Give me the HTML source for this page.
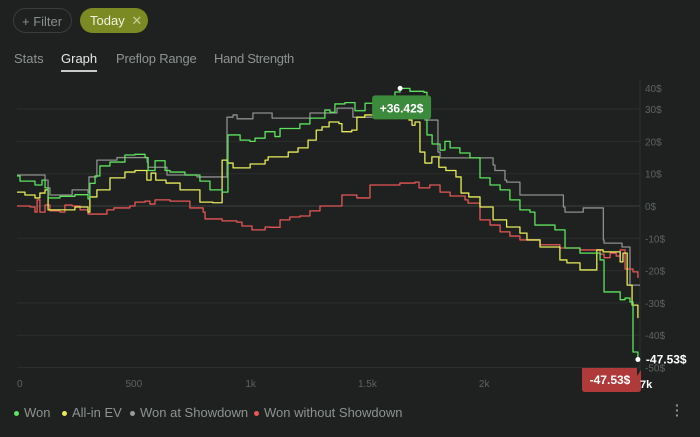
<!DOCTYPE html>
<html><head><meta charset="utf-8">
<style>
html,body{margin:0;padding:0;background:#1e211f;width:700px;height:437px;overflow:hidden;font-family:"Liberation Sans",sans-serif;}
.pill{position:absolute;top:8px;height:25px;border-radius:13px;font-size:13px;line-height:25px;box-sizing:border-box;}
#filter{left:13px;width:59px;border:1px solid #3a3e3b;color:#8a8e8b;padding-left:8px;}
#today{left:80px;width:68px;background:#7b8a22;color:#f0f3df;padding-left:10px;}
.tab{position:absolute;top:51px;font-size:13px;color:#8f9390;}
#tab-graph{color:#e6e8e6;}
#tab-graph:after{content:"";position:absolute;left:0;right:0;top:19px;height:2px;background:#c9cbc9;}
.leg{position:absolute;top:405px;font-size:13px;color:#8f9390;}
.leg i{display:inline-block;width:5px;height:5px;border-radius:50%;margin-right:5px;vertical-align:middle;}
</style></head><body>
<div id="filter" class="pill">+ Filter</div>
<div id="today" class="pill">Today <span style="color:#c8cf9b;margin-left:3px">✕</span></div>
<div class="tab" style="left:14px">Stats</div>
<div class="tab" id="tab-graph" style="left:61px">Graph</div>
<div class="tab" style="left:116px;letter-spacing:-0.2px">Preflop Range</div>
<div class="tab" style="left:214px;letter-spacing:-0.3px">Hand Strength</div>
<svg id="chart" width="700" height="437" style="position:absolute;left:0;top:0"></svg>
<div class="leg" style="left:14px"><i style="background:#5fe35f"></i>Won</div>
<div class="leg" style="left:62px"><i style="background:#e6ea5a"></i>All-in EV</div>
<div class="leg" style="left:130px"><i style="background:#999"></i>Won at Showdown</div>
<div class="leg" style="left:254px"><i style="background:#e85a5a"></i>Won without Showdown</div>
<div style="position:absolute;left:675px;top:403px;color:#8f9390;font-size:14px;line-height:5px;font-weight:bold">·<br>·<br>·</div>
<script>
const xTicks=[0,500,1000,1500,2000];
const xTickLabels=["0","500","1k","1.5k","2k"];
const yTicks=[40,30,20,10,0,-10,-20,-30,-40,-50];
const yTickLabels=["40$","30$","20$","10$","0$","-10$","-20$","-30$","-40$","-50$"];
const wonHands=[0,13,77,107,120,133,184,248,304,312,334,355,398,462,505,548,561,591,634,655,719,783,826,878,903,955,997,1019,1062,1104,1126,1211,1254,1318,1340,1361,1404,1447,1490,1533,1618,1640,1682,1742,1755,1777,1811,1832,1854,1896,1939,1982,2025,2068,2110,2153,2196,2217,2303,2346,2410,2496,2513,2582,2603,2624,2637,2658];
const wonValues=[9.3,7.7,6.5,8,5.6,2.5,3,3.5,2.2,7,9.3,12.4,13.6,15.8,16,15,11,14,11,10.5,9.6,7.7,5,4.3,22,20.4,20,21,23,21.5,24,25.4,27.2,29.7,29,31.6,32,29.5,31.8,34,35.3,36.42,35.5,35.2,22,19.2,17.3,20,18,16.4,14.9,8.7,6.5,5,1.9,-1.2,-1.9,-5.9,-7.4,-13,-14.6,-16.7,-26.6,-29,-28.5,-29.7,-45.2,-47.53];
const evHands=[0,34,77,98,120,133,184,248,304,312,342,398,462,505,556,574,594,638,698,783,838,878,901,925,998,1062,1075,1161,1203,1246,1281,1306,1336,1378,1391,1433,1455,1489,1678,1691,1704,1725,1746,1776,1806,1836,1879,1901,1934,1982,2038,2096,2153,2183,2239,2324,2354,2410,2482,2509,2582,2594,2612,2633,2658];
const evValues=[4.3,3.4,2.5,4,5,-1.2,-1.2,-0.3,-1.9,2.8,5,8.7,10.5,11,8,10.2,8,7.1,5,1.2,1,14.2,13.3,11.8,13,14.2,15.2,16.7,18,20.4,23.5,24.5,26,25.5,23,23.5,27.5,28.2,26.6,25,26,16.7,13.3,15.2,12,11,9,4,2.8,-0.3,-4.3,-6.5,-8.4,-10.5,-12.7,-16.7,-17.6,-19.8,-13.6,-14.2,-17.3,-14.6,-24.5,-30.7,-34.7];
const sdHands=[0,120,133,141,236,304,308,342,428,557,561,642,770,899,925,942,1010,1092,1254,1297,1370,1438,1738,1746,1802,1811,1838,2038,2046,2089,2096,2153,2339,2346,2424,2510,2513,2590,2624,2632,2667];
const sdValues=[9.6,8,5.6,3.4,5,4,9,14.2,15,13.6,12,9.6,9,27.5,28.2,27,28.8,27.2,28.8,28.8,30.3,27.5,28.2,26.6,16.7,14.9,14.9,12.7,11,8,7.4,3.4,-0.3,-1.9,-0.6,-10.5,-11.5,-12.7,-24.5,-24.5,-24.5];
const nsHands=[0,56,77,86,98,120,141,184,205,236,270,304,334,385,415,483,505,548,569,591,655,740,797,805,878,941,963,1006,1062,1083,1126,1168,1211,1254,1297,1391,1455,1511,1639,1704,1721,1767,1811,1854,1918,1931,1982,2025,2068,2110,2153,2239,2324,2410,2496,2513,2539,2565,2582,2603,2637,2658];
const nsValues=[0,-0.3,-1.9,1.9,-1.9,0.3,-1.5,-1.9,0.3,0,-1.2,-2.5,-2.5,-1.2,-0.6,0,1.2,1.5,0.6,1.9,1.5,-0.6,-1.9,-4,-4.6,-5,-6.2,-7.4,-6.5,-6.6,-4.3,-3.4,-3.1,-1.5,0,3.4,2.5,6.5,7.1,7.4,5.6,6.5,4.3,3.1,1.9,0.9,-4.3,-5.9,-8,-9.3,-10.5,-12,-13,-13.6,-14.9,-16,-14.6,-15.5,-13.6,-19.5,-20.4,-22.3];

const svg=document.getElementById('chart');
const NS='http://www.w3.org/2000/svg';
const X0=17,XK=0.2336,Y0=206,YK=3.23;
function xs(h){return X0+h*XK;}
function ys(v){return Y0-v*YK;}
function mk(tag,attrs){const e=document.createElementNS(NS,tag);for(const k in attrs)e.setAttribute(k,attrs[k]);svg.appendChild(e);return e;}
yTicks.forEach((t,i)=>{
  const y=ys(t);
  if(y>85&&y<370){const g=mk('line',{x1:17,x2:640,y1:y,y2:y,stroke:t===0?'#3b3f3c':'#2b2f2c','stroke-width':1});
  
  }
  const ty=Math.max(y,88);
  const tx=mk('text',{x:645,y:ty+4,fill:'#5f6360','font-size':10,'font-family':'Liberation Sans, sans-serif'});
  tx.textContent=yTickLabels[i];
  
  
});
const ax=mk('line',{x1:640,x2:640,y1:80,y2:372,stroke:'#2e322f','stroke-width':1});


xTicks.forEach((t,i)=>{
  const tx=mk('text',{x:xs(t),y:387,fill:'#5f6360','font-size':10,'text-anchor':i===0?'start':'middle','font-family':'Liberation Sans, sans-serif'});
  tx.textContent=xTickLabels[i];
  
  
});
function stepPath(hs,vs){let d='M'+xs(hs[0])+','+ys(vs[0]);for(let i=1;i<hs.length;i++){d+=' H'+xs(hs[i])+' V'+ys(vs[i]);}return d;}
function series(hs,vs,color,name){
  const p=mk('path',{d:stepPath(hs,vs),fill:'none',stroke:color,'stroke-width':1.3,'stroke-linejoin':'round'});
  
  
}
series(sdHands,sdValues,'#8e8e8e','won-at-showdown-line');
series(nsHands,nsValues,'#e55757','won-without-showdown-line');
series(evHands,evValues,'#e8ec5c','all-in-ev-line');
series(wonHands,wonValues,'#5fe35f','won-line');
let mi=0;wonValues.forEach((v,i)=>{if(v>wonValues[mi])mi=i;});
const mx=xs(wonHands[mi]),my=ys(wonValues[mi]);
const d1=mk('circle',{cx:mx,cy:my,r:2.5,fill:'#fff'});


const tb=mk('rect',{x:mx-28,y:my+7,width:59,height:24,rx:3,fill:'#3c8a3c'});


const tt=mk('text',{x:mx+1.5,y:my+24,fill:'#fff','font-size':12,'font-weight':'bold','text-anchor':'middle','font-family':'Liberation Sans, sans-serif'});
tt.textContent='+'+wonValues[mi].toFixed(2)+'$';


const li=wonValues.length-1;const ex=xs(wonHands[li]),ey=ys(wonValues[li]);
const d2=mk('circle',{cx:ex,cy:ey,r:2.5,fill:'#fff'});


const el=mk('text',{x:ex+8,y:ey+4,fill:'#fff','font-size':12,'font-weight':'bold','font-family':'Liberation Sans, sans-serif'});
el.textContent=wonValues[li].toFixed(2)+'$';


const rb=mk('path',{d:'M582,368 H637 V376 L641,370 V389 Q641,392 638,392 H585 Q582,392 582,389 Z',fill:'#b03a3a'});


const rt=mk('text',{x:610,y:384,fill:'#fff','font-size':12,'font-weight':'bold','text-anchor':'middle','font-family':'Liberation Sans, sans-serif'});
rt.textContent=wonValues[li].toFixed(2)+'$';


const k7=mk('text',{x:640,y:388,fill:'#fff','font-size':11,'font-weight':'bold','font-family':'Liberation Sans, sans-serif'});
k7.textContent='7k';


</script>
</body></html>
